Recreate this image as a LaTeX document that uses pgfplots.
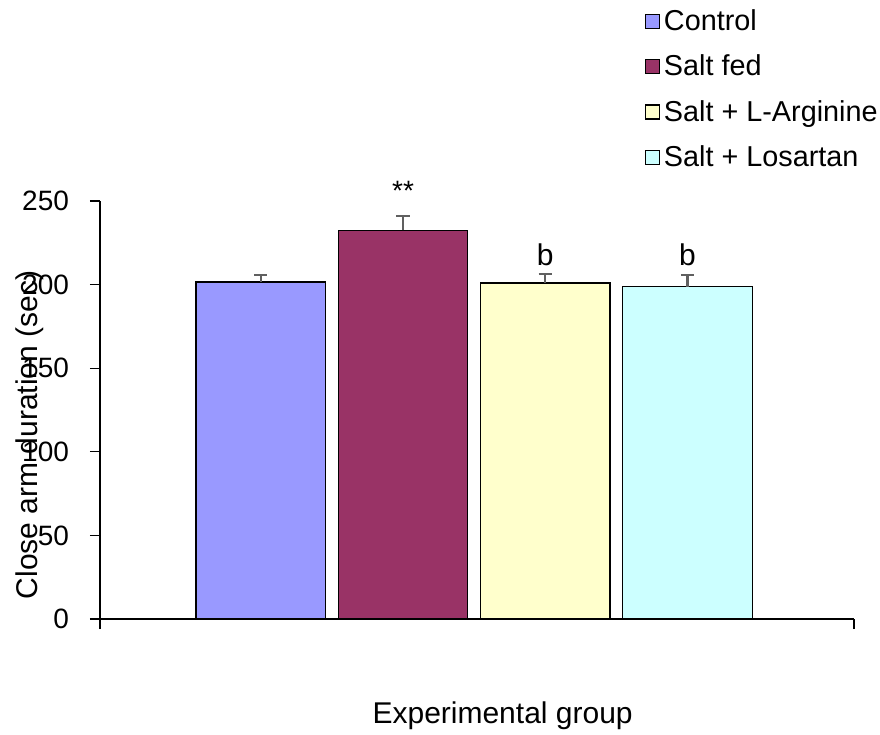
\documentclass[border=0pt]{standalone}
\usepackage{pgfplots}
\pgfplotsset{compat=1.18}
\usepackage{fontspec}
\setmainfont{Liberation Sans}
\definecolor{cControl}{HTML}{9999FF}
\definecolor{cSalt}{HTML}{993366}
\definecolor{cArg}{HTML}{FFFFCC}
\definecolor{cLos}{HTML}{CCFFFF}
\definecolor{ebgray}{HTML}{606060}
\begin{document}
\begin{tikzpicture}
\path[use as bounding box] (-50pt,-58pt) rectangle (390pt,309.5pt);
\begin{axis}[
  at={(0pt,0pt)}, anchor=south west,
  scale only axis, width=377pt, height=209pt,
  xmin=-0.13, xmax=5.17, ymin=0, ymax=250,
  axis lines*=left,
  clip=false,
  ytick={0,50,100,150,200,250},
  xtick={-0.13,5.17}, xticklabels={},
  tick align=outside, major tick length=5pt,
  tick style={black, line width=0.65pt},
  axis line style={black, line width=0.65pt},
  /pgf/number format/assume math mode=true,
  yticklabel style={font=\fontsize{14}{16}\selectfont, xshift=-7pt},
  ybar, bar width=0.91, bar shift=0pt,
  xlabel={Experimental group},
  ylabel={Close arm duration (sec)},
  xlabel style={at={(axis description cs:0.534,-0.249)}, anchor=base, font=\fontsize{15}{18}\selectfont},
  ylabel style={at={(axis description cs:-0.093,0.44)}, anchor=center, font=\fontsize{15}{18}\selectfont},
  legend style={draw=none, fill=none, at={(axis description cs:0.714,1.478)}, anchor=north west,
    font=\fontsize{14.4}{16}\selectfont, row sep=6.7pt},
  legend cell align=left,
  sq/.style={legend image code/.code={\draw[##1, draw=black, line width=0.6pt] (0pt,-3.5pt) rectangle (7pt,3.5pt);}},
  eb/.style={error bars/.cd, y dir=plus, y explicit,
    error bar style={line width=1.1pt, draw=ebgray, solid},
    error mark options={rotate=90, line width=1.1pt, draw=ebgray, mark size=3.3pt, solid}},
]
\addplot[fill=cControl, draw=black, line width=0.65pt, sq, eb] coordinates {(1,201.6) +- (0,4.1)};
\addlegendentry{Control}
\addplot[fill=cSalt, draw=black, line width=0.65pt, sq, eb] coordinates {(2,232.5) +- (0,8.7)};
\addlegendentry{Salt fed}
\addplot[fill=cArg, draw=black, line width=0.65pt, sq, eb] coordinates {(3,201.0) +- (0,5.3)};
\addlegendentry{Salt + L-Arginine}
\addplot[fill=cLos, draw=black, line width=0.65pt, sq, eb] coordinates {(4,198.7) +- (0,7.0)};
\addlegendentry{Salt + Losartan}
\node[font=\fontsize{14}{16}\selectfont, anchor=base] at (axis cs:2,250.5) {**};
\node[font=\fontsize{15}{18}\selectfont, anchor=base] at (axis cs:3,211.5) {b};
\node[font=\fontsize{15}{18}\selectfont, anchor=base] at (axis cs:4,211.3) {b};
\end{axis}
\end{tikzpicture}
\end{document}
